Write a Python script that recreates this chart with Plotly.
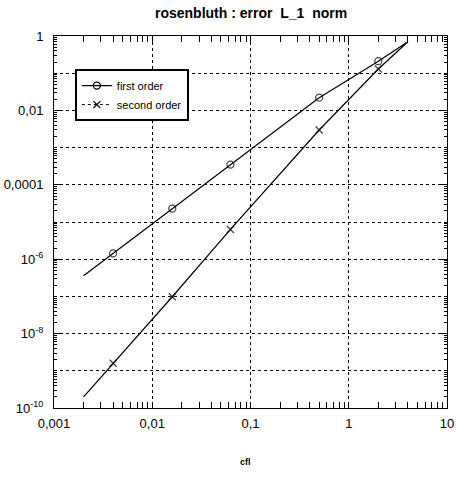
import plotly.graph_objects as go

# data
cfl = [0.002, 0.004, 0.016, 0.0625, 0.5, 2, 4]
first_order = [3.6e-7, 1.44e-6, 2.3e-5, 3.5e-4, 0.022, 0.21, 0.7]
second_order = [2.0e-10, 1.6e-9, 9.8e-8, 6.3e-6, 2.97e-3, 0.13, 0.7]
marker_shown = [False, True, True, True, True, True, False]

y_tickvals = [1e-10, 1e-8, 1e-6, 1e-4, 1e-2, 1]
y_ticktext = ["10<sup>-10</sup>", "10<sup>-8</sup>", "10<sup>-6</sup>",
              "0,0001", "0,01", "1"]
y_odd_grid = [1e-9, 1e-7, 1e-5, 1e-3, 1e-1]
x_tickvals = [0.001, 0.01, 0.1, 1, 10]
x_ticktext = ["0,001", "0,01", "0,1", "1", "10"]

FONT = "Liberation Sans, Arial, Helvetica, sans-serif"

fig = go.Figure()

# invisible trace so the overlaying grid axis is drawn
fig.add_trace(go.Scatter(x=[cfl[0]], y=[first_order[0]], yaxis="y2", mode="markers",
                         marker=dict(size=0, opacity=0), showlegend=False,
                         hoverinfo="skip"))

sizes = [7 if m else 0 for m in marker_shown]
fig.add_trace(go.Scatter(x=cfl, y=first_order, mode="lines+markers",
                         line=dict(color="black", width=1.2),
                         marker=dict(symbol="circle-open", size=sizes, color="black",
                                     line=dict(width=1.3, color="black")),
                         showlegend=False))
fig.add_trace(go.Scatter(x=cfl, y=second_order, mode="lines+markers",
                         line=dict(color="black", width=1.2),
                         marker=dict(symbol="x-thin-open", size=sizes, color="black",
                                     line=dict(width=1.5, color="black")),
                         showlegend=False))
# legend-only entries
fig.add_trace(go.Scatter(x=[None], y=[None], mode="lines+markers", name="first order",
                         line=dict(color="black", width=1.2),
                         marker=dict(symbol="circle-open", size=7, color="black",
                                     line=dict(width=1.3, color="black"))))
fig.add_trace(go.Scatter(x=[None], y=[None], mode="lines+markers", name="second order",
                         line=dict(color="black", width=1, dash="dot"),
                         marker=dict(symbol="x-thin-open", size=7, color="black",
                                     line=dict(width=1.3, color="black"))))

fig.update_layout(
    width=456, height=477,
    margin=dict(l=54, r=9, t=36, b=69),
    paper_bgcolor="white", plot_bgcolor="white",
    font=dict(family=FONT, color="black", size=13),
    showlegend=True,
    legend=dict(x=0.053, y=0.911, xanchor="left", yanchor="top",
                bgcolor="white", bordercolor="black", borderwidth=2,
                font=dict(size=11), tracegroupgap=0, itemwidth=30),
    annotations=[
        dict(text="<b>rosenbluth : error  L_1  norm</b>", xref="paper", yref="paper",
             x=0.5, y=1 + 23 / 372, xanchor="center", yanchor="middle",
             showarrow=False, font=dict(size=14)),
        dict(text="<b>cfl</b>", xref="paper", yref="paper",
             x=(245 - 54) / 393, y=-(462 - 408) / 372, xanchor="center", yanchor="middle",
             showarrow=False, font=dict(size=9)),
    ],
    xaxis=dict(type="log", range=[-3, 1], tickmode="array", tickvals=x_tickvals,
               ticktext=x_ticktext, showline=True, linecolor="black", linewidth=1,
               mirror="allticks", ticks="inside", ticklen=6, tickcolor="black",
               showgrid=True, gridcolor="black", gridwidth=1, griddash="dot",
               minor=dict(ticks="inside", ticklen=3, tickcolor="black", dtick="D1",
                          showgrid=False),
               zeroline=False, tickfont=dict(size=13), ticklabelstandoff=3,
               automargin=False),
    yaxis=dict(type="log", range=[-10, 0], tickmode="array", tickvals=y_tickvals,
               ticktext=y_ticktext, showline=True, linecolor="black", linewidth=1,
               mirror="allticks", ticks="inside", ticklen=6, tickcolor="black",
               showgrid=True, gridcolor="black", gridwidth=1, griddash="3px,3px",
               minor=dict(ticks="inside", ticklen=3, tickcolor="black", dtick="D1",
                          showgrid=False),
               zeroline=False, tickfont=dict(size=13), ticklabelstandoff=7,
               automargin=False),
    yaxis2=dict(type="log", range=[-10, 0], overlaying="y", side="right",
                tickmode="array", tickvals=y_odd_grid, showticklabels=False,
                ticks="", showgrid=True, gridcolor="black", gridwidth=1,
                griddash="3px,3px", showline=False, zeroline=False, automargin=False),
)

fig.write_html("out.html")
